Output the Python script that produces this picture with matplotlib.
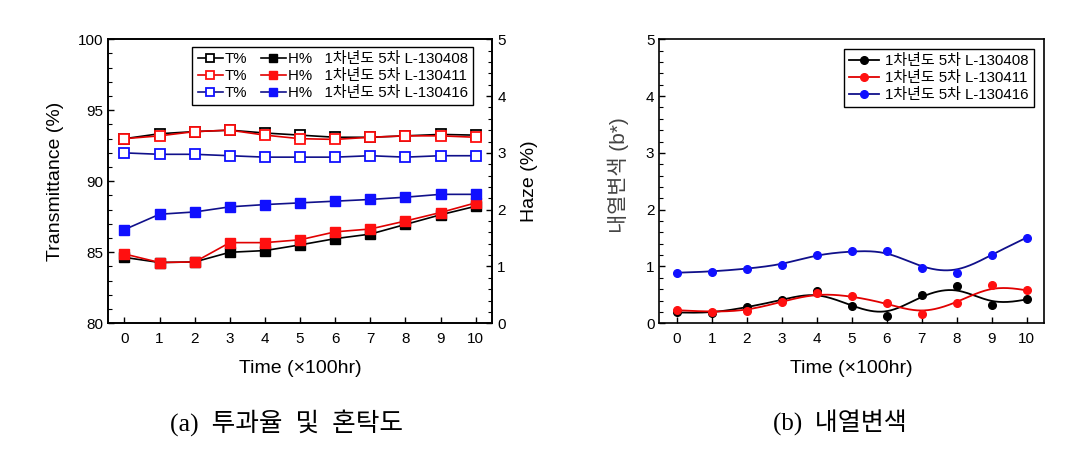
import numpy as np
import matplotlib
matplotlib.use("Agg")
import matplotlib.pyplot as plt
from matplotlib.ticker import MultipleLocator

plt.rcParams['font.family'] = ['Liberation Sans', 'Noto Sans CJK KR', 'DejaVu Sans']

# ---------------- data ----------------
time = [0, 1, 2, 3, 4, 5, 6, 7, 8, 9, 10]
samples = ["1차년도 5차 L-130408", "1차년도 5차 L-130411", "1차년도 5차 L-130416"]

T_408 = [93.0, 93.35, 93.5, 93.6, 93.4, 93.25, 93.1, 93.1, 93.2, 93.3, 93.25]
T_411 = [93.0, 93.2, 93.5, 93.6, 93.25, 93.0, 92.95, 93.1, 93.2, 93.2, 93.1]
T_416 = [92.0, 91.9, 91.9, 91.8, 91.7, 91.7, 91.7, 91.8, 91.7, 91.8, 91.8]

H_408 = [1.16, 1.07, 1.08, 1.25, 1.28, 1.38, 1.49, 1.57, 1.74, 1.91, 2.06]
H_411 = [1.22, 1.07, 1.08, 1.42, 1.42, 1.47, 1.61, 1.66, 1.80, 1.95, 2.12]
H_416 = [1.65, 1.92, 1.96, 2.05, 2.09, 2.12, 2.15, 2.18, 2.22, 2.27, 2.27]

B_408 = [0.19, 0.18, 0.28, 0.41, 0.56, 0.30, 0.12, 0.50, 0.66, 0.32, 0.42]
B_411 = [0.23, 0.20, 0.22, 0.38, 0.53, 0.48, 0.35, 0.16, 0.36, 0.67, 0.58]
B_416 = [0.89, 0.91, 0.96, 1.03, 1.21, 1.27, 1.28, 0.97, 0.88, 1.21, 1.51]

line_colors = ['black', '#e00000', '#10108a']
mark_colors = ['black', '#ff1010', '#1010ff']


def bspline(xs, ys, n=30):
    """Uniform cubic B-spline using the data points as control points
    (end points repeated so the curve is clamped), like Origin's B-spline line."""
    P = np.column_stack([xs, ys]).astype(float)
    P = np.vstack([P[0], P[0], P, P[-1], P[-1]])
    t = np.linspace(0, 1, n, endpoint=False)
    b0 = (1 - t) ** 3 / 6
    b1 = (3 * t ** 3 - 6 * t ** 2 + 4) / 6
    b2 = (-3 * t ** 3 + 3 * t ** 2 + 3 * t + 1) / 6
    b3 = t ** 3 / 6
    out = []
    for i in range(len(P) - 3):
        seg = (b0[:, None] * P[i] + b1[:, None] * P[i + 1] +
               b2[:, None] * P[i + 2] + b3[:, None] * P[i + 3])
        out.append(seg)
    out.append(P[-1][None, :])
    out = np.vstack(out)
    return out[:, 0], out[:, 1]


fig = plt.figure(figsize=(10.69, 4.49), dpi=100)

# ---------------- (a) ----------------
ax = fig.add_axes([0.101, 0.280, 0.3597, 0.6325])
ax2 = ax.twinx()

T_all = [T_408, T_411, T_416]
H_all = [H_408, H_411, H_416]
t_handles, h_handles = [], []
for i in range(3):
    l, = ax.plot(time, T_all[i], '-', color=line_colors[i], lw=1.2,
                 marker='s', ms=6.5, mfc='white', mec=mark_colors[i], mew=1.3)
    t_handles.append(l)
for i in range(3):
    l, = ax2.plot(time, H_all[i], '-', color=line_colors[i], lw=1.2,
                  marker='s', ms=6.5, mfc=mark_colors[i], mec=mark_colors[i])
    h_handles.append(l)

ax.set_xlim(-0.47, 10.48)
ax.set_ylim(80, 100)
ax2.set_ylim(0, 5)
ax.set_xticks(time)
ax.yaxis.set_major_locator(MultipleLocator(5))
ax.yaxis.set_minor_locator(MultipleLocator(1))
ax2.yaxis.set_major_locator(MultipleLocator(1))
ax2.yaxis.set_minor_locator(MultipleLocator(0.2))
for a in (ax, ax2):
    a.tick_params(which='major', direction='in', length=4, width=1, labelsize=11)
    a.tick_params(which='minor', direction='in', length=3, width=0.8)
    for s in a.spines.values():
        s.set_linewidth(1.2)
ax.tick_params(axis='x', pad=6)
ax.set_xlabel("Time (×100hr)", fontsize=14, labelpad=10)
ax.set_ylabel("Transmittance (%)", fontsize=14, labelpad=10)
ax2.set_ylabel("Haze (%)", fontsize=14, labelpad=11)

leg = ax2.legend(t_handles + h_handles,
                 ["T%"] * 3 + ["H%   " + s for s in samples],
                 ncol=2, loc='upper right', bbox_to_anchor=(0.949, 0.974),
                 borderaxespad=0,
                 fontsize=10.8, frameon=True, fancybox=False, framealpha=1,
                 edgecolor='black', handlelength=1.7, handletextpad=0.1,
                 columnspacing=0.9, labelspacing=0.2, borderpad=0.35,
                 markerscale=0.85)
leg.get_frame().set_linewidth(1.0)

# ---------------- (b) ----------------
bx = fig.add_axes([0.6167, 0.280, 0.3602, 0.6325])
B_all = [B_408, B_411, B_416]
for i in range(3):
    xs, ys = bspline(time, B_all[i])
    bx.plot(xs, ys, '-', color=line_colors[i], lw=1.3)
    bx.plot(time, B_all[i], 'o', ls='none', ms=5.5, color=mark_colors[i])
handles = [plt.Line2D([], [], color=line_colors[i], lw=1.3, marker='o', ms=5.5,
                      mfc=mark_colors[i], mec=mark_colors[i]) for i in range(3)]
bx.set_xlim(-0.5, 10.5)
bx.set_ylim(0, 5)
bx.set_xticks(time)
bx.yaxis.set_major_locator(MultipleLocator(1))
bx.yaxis.set_minor_locator(MultipleLocator(0.2))
bx.tick_params(which='major', direction='in', length=4, width=1, labelsize=11)
bx.tick_params(which='minor', direction='in', length=3, width=0.8)
bx.tick_params(axis='x', pad=6)
for s in bx.spines.values():
    s.set_linewidth(1.2)
bx.set_xlabel("Time (×100hr)", fontsize=14, labelpad=10)
bx.set_ylabel("내열변색 (b*)", fontsize=15, color='#444444')
bx.yaxis.set_label_coords(-0.078, 0.52)
leg2 = bx.legend(handles, samples, loc='upper right', bbox_to_anchor=(0.973, 0.966),
                 borderaxespad=0,
                 fontsize=10.8, frameon=True, fancybox=False, framealpha=1,
                 edgecolor='black', handlelength=2.0, handletextpad=0.4,
                 labelspacing=0.2, borderpad=0.35)
leg2.get_frame().set_linewidth(1.0)

# ---------------- captions ----------------
cap_font = ['Liberation Serif', 'Noto Sans CJK KR']
fig.text(287 / 1069, 1 - 423 / 449, "(a)  투과율  및  혼탁도", ha='center', va='center',
         fontsize=18.5, family=cap_font)
fig.text(840 / 1069, 1 - 423 / 449, "(b)  내열변색", ha='center', va='center',
         fontsize=18, family=cap_font)

fig.savefig("out.png", dpi=100)
